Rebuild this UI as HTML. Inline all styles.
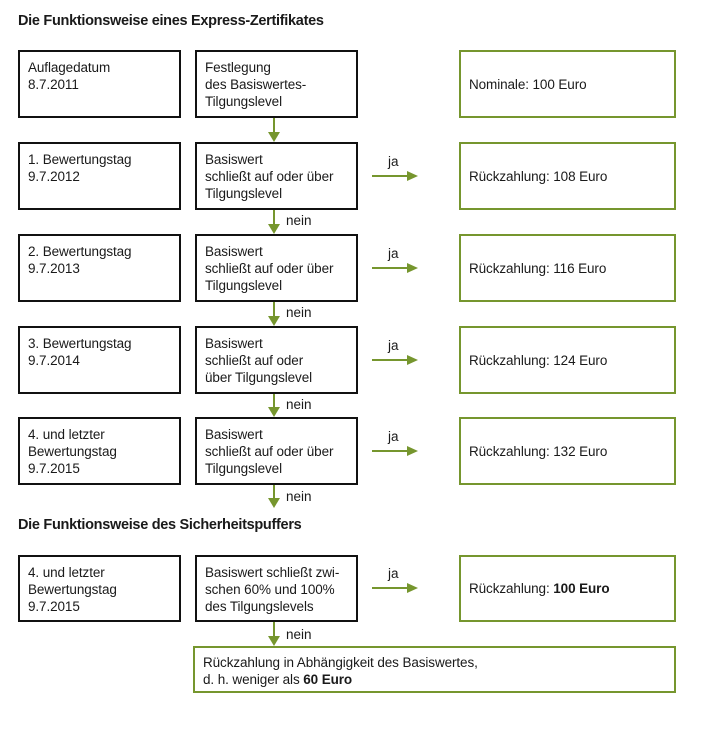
<!DOCTYPE html>
<html><head><meta charset="utf-8"><style>
body{margin:0;width:726px;height:735px;background:#fff;position:relative;font-family:"Liberation Sans",sans-serif;color:#1a1a1a;overflow:hidden}
.b{position:absolute;box-sizing:border-box;border:2px solid #111;font-size:13.5px;line-height:17px;padding:7px 0 0 8px;letter-spacing:-0.1px}
.g{border-color:#76962e}
.c{display:flex;align-items:center;padding-top:0}
h1{position:absolute;margin:0;font-size:14.5px;font-weight:bold;left:18px;letter-spacing:-0.3px}
.t{position:absolute;font-size:13.5px}
svg{position:absolute;left:0;top:0}
</style></head><body>
<h1 style="top:13px">Die Funktionsweise eines Express-Zertifikates</h1>
<h1 style="top:517px">Die Funktionsweise des Sicherheitspuffers</h1>

<div class="b" style="left:18px;top:50px;width:163px;height:68px">Auflagedatum<br>8.7.2011</div>
<div class="b" style="left:195px;top:50px;width:163px;height:68px">Festlegung<br>des Basiswertes-<br>Tilgungslevel</div>
<div class="b g c" style="left:459px;top:50px;width:217px;height:68px">Nominale: 100 Euro</div>

<div class="b" style="left:18px;top:142px;width:163px;height:68px">1. Bewertungstag<br>9.7.2012</div>
<div class="b" style="left:195px;top:142px;width:163px;height:68px">Basiswert<br>schließt auf oder über<br>Tilgungslevel</div>
<div class="b g c" style="left:459px;top:142px;width:217px;height:68px">Rückzahlung: 108 Euro</div>

<div class="b" style="left:18px;top:234px;width:163px;height:68px">2. Bewertungstag<br>9.7.2013</div>
<div class="b" style="left:195px;top:234px;width:163px;height:68px">Basiswert<br>schließt auf oder über<br>Tilgungslevel</div>
<div class="b g c" style="left:459px;top:234px;width:217px;height:68px">Rückzahlung: 116 Euro</div>

<div class="b" style="left:18px;top:326px;width:163px;height:68px">3. Bewertungstag<br>9.7.2014</div>
<div class="b" style="left:195px;top:326px;width:163px;height:68px">Basiswert<br>schließt auf oder<br>über Tilgungslevel</div>
<div class="b g c" style="left:459px;top:326px;width:217px;height:68px">Rückzahlung: 124 Euro</div>

<div class="b" style="left:18px;top:417px;width:163px;height:68px">4. und letzter<br>Bewertungstag<br>9.7.2015</div>
<div class="b" style="left:195px;top:417px;width:163px;height:68px">Basiswert<br>schließt auf oder über<br>Tilgungslevel</div>
<div class="b g c" style="left:459px;top:417px;width:217px;height:68px">Rückzahlung: 132 Euro</div>

<div class="b" style="left:18px;top:555px;width:163px;height:67px">4. und letzter<br>Bewertungstag<br>9.7.2015</div>
<div class="b" style="left:195px;top:555px;width:163px;height:67px">Basiswert schließt zwi-<br>schen 60% und 100%<br>des Tilgungslevels</div>
<div class="b g c" style="left:459px;top:555px;width:217px;height:67px">Rückzahlung:&nbsp;<b>100 Euro</b></div>

<div class="b g" style="left:193px;top:646px;width:483px;height:47px;padding-top:6px">Rückzahlung in Abhängigkeit des Basiswertes,<br>d. h. weniger als <b>60 Euro</b></div>

<svg width="726" height="735">
<g fill="#76962e" stroke="#76962e" stroke-width="2">
<line x1="274" y1="118" x2="274" y2="134"/><polygon stroke="none" points="268,132 280,132 274,142"/>
<line x1="274" y1="210" x2="274" y2="226"/><polygon stroke="none" points="268,224 280,224 274,234"/>
<line x1="274" y1="302" x2="274" y2="318"/><polygon stroke="none" points="268,316 280,316 274,326"/>
<line x1="274" y1="394" x2="274" y2="409"/><polygon stroke="none" points="268,407 280,407 274,417"/>
<line x1="274" y1="485" x2="274" y2="500"/><polygon stroke="none" points="268,498 280,498 274,508"/>
<line x1="274" y1="622" x2="274" y2="638"/><polygon stroke="none" points="268,636 280,636 274,646"/>
<line x1="372" y1="176" x2="410" y2="176"/><polygon stroke="none" points="407,171 407,181 418,176"/>
<line x1="372" y1="268" x2="410" y2="268"/><polygon stroke="none" points="407,263 407,273 418,268"/>
<line x1="372" y1="360" x2="410" y2="360"/><polygon stroke="none" points="407,355 407,365 418,360"/>
<line x1="372" y1="451" x2="410" y2="451"/><polygon stroke="none" points="407,446 407,456 418,451"/>
<line x1="372" y1="588" x2="410" y2="588"/><polygon stroke="none" points="407,583 407,593 418,588"/>
</g>
</svg>
<div class="t" style="left:388px;top:154px">ja</div>
<div class="t" style="left:388px;top:246px">ja</div>
<div class="t" style="left:388px;top:338px">ja</div>
<div class="t" style="left:388px;top:429px">ja</div>
<div class="t" style="left:388px;top:566px">ja</div>
<div class="t" style="left:286px;top:213px">nein</div>
<div class="t" style="left:286px;top:305px">nein</div>
<div class="t" style="left:286px;top:397px">nein</div>
<div class="t" style="left:286px;top:489px">nein</div>
<div class="t" style="left:286px;top:627px">nein</div>
</body></html>
